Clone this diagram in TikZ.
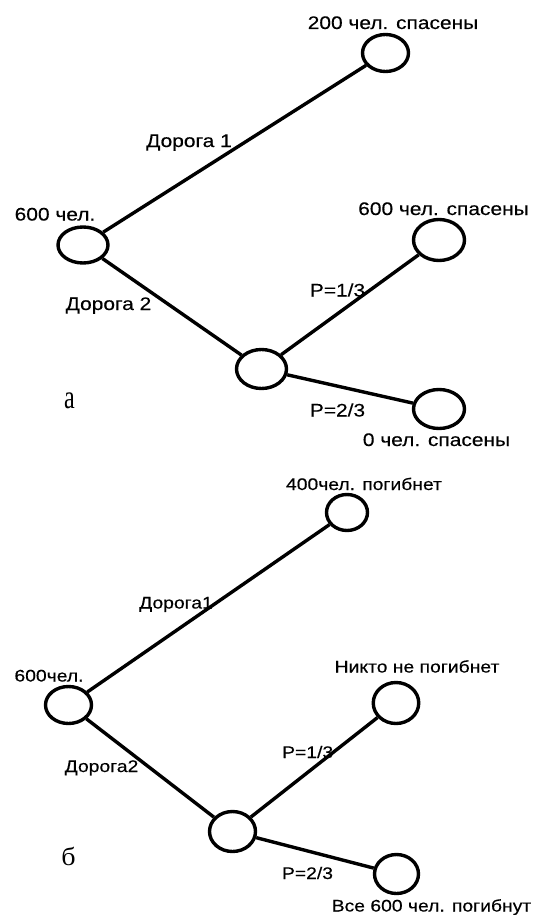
\documentclass[tikz,border=0pt]{standalone}
\usepackage{fontspec}
\usepackage{graphicx}
\setmainfont{Liberation Sans}[FakeStretch=1.15,FakeBold=0.3]
\newfontfamily\lserif{Liberation Serif}
\usetikzlibrary{shapes.geometric}
\begin{document}
\begin{tikzpicture}[x=1pt,y=-1pt,
  ell/.style={draw, ellipse, line width=3.4pt, inner sep=0pt},
  edge/.style={line width=3.4pt},
  lbla/.style={inner sep=0pt, font=\fontsize{18.2}{20}\selectfont, text height=13pt, text depth=0pt},
  lblb/.style={inner sep=0pt, font=\fontsize{16.8}{19}\selectfont, text height=12pt, text depth=0pt},
  tag/.style={inner sep=0pt}]
\useasboundingbox (0,0) rectangle (535,915);
% --- figure a ---
\node[ell, minimum width=50pt, minimum height=36pt] (a0) at (83,245) {};
\node[ell, minimum width=46pt, minimum height=37pt] (a1) at (385.5,53) {};
\node[ell, minimum width=50pt, minimum height=39pt] (a2) at (261.5,369) {};
\node[ell, minimum width=51pt, minimum height=41pt] (a3) at (439,240) {};
\node[ell, minimum width=51pt, minimum height=39pt] (a4) at (439,409) {};
\draw[edge] (a0) -- (a1);
\draw[edge] (a0) -- (a2);
\draw[edge] (a2) -- (a3);
\draw[edge] (a2) -- (a4);
\node[lbla] (ta0) at (55,214) {600 чел.};
\node[lbla] (ta1) at (393,22.5) {200 чел. спасены};
\node[lbla] (ta3) at (443.5,208.5) {600 чел. спасены};
\node[lbla] (ta4) at (436.5,439.5) {0 чел. спасены};
\node[lbla] (tad1) at (189,140.5) {Дорога 1};
\node[lbla] (tad2) at (108.5,303.5) {Дорога 2};
\node[lbla] (tap1) at (337.5,290) {P=1/3};
\node[lbla] (tap2) at (337.5,410) {P=2/3};
\node[tag] (tagA) at (69.5,401) {\resizebox{10.7pt}{15.7pt}{\lserif а}};
% --- figure b ---
\node[ell, minimum width=46pt, minimum height=37pt] (b0) at (68.5,705) {};
\node[ell, minimum width=41pt, minimum height=36pt] (b1) at (347,512.5) {};
\node[ell, minimum width=46pt, minimum height=40pt] (b2) at (232.5,831.5) {};
\node[ell, minimum width=45.5pt, minimum height=41pt] (b3) at (396,703) {};
\node[ell, minimum width=44pt, minimum height=39pt] (b4) at (396.5,874) {};
\draw[edge] (b0) -- (b1);
\draw[edge] (b0) -- (b2);
\draw[edge] (b2) -- (b3);
\draw[edge] (b2) -- (b4);
\node[lblb] (tb0) at (49,675.5) {600чел.};
\node[lblb] (tb1) at (364,484) {400чел. погибнет};
\node[lblb] (tb3) at (417,666.5) {Никто не погибнет};
\node[lblb] (tb4) at (431.5,905.5) {Все 600 чел. погибнут};
\node[lblb] (tbd1) at (176,602.5) {Дорога1};
\node[lblb] (tbd2) at (101.5,766) {Дорога2};
\node[lblb] (tbp1) at (307.7,752) {P=1/3};
\node[lblb] (tbp2) at (307.5,873) {P=2/3};
\node[tag] (tagB) at (68.6,856) {\resizebox{14.3pt}{18.3pt}{\lserif б}};
\end{tikzpicture}
\end{document}
